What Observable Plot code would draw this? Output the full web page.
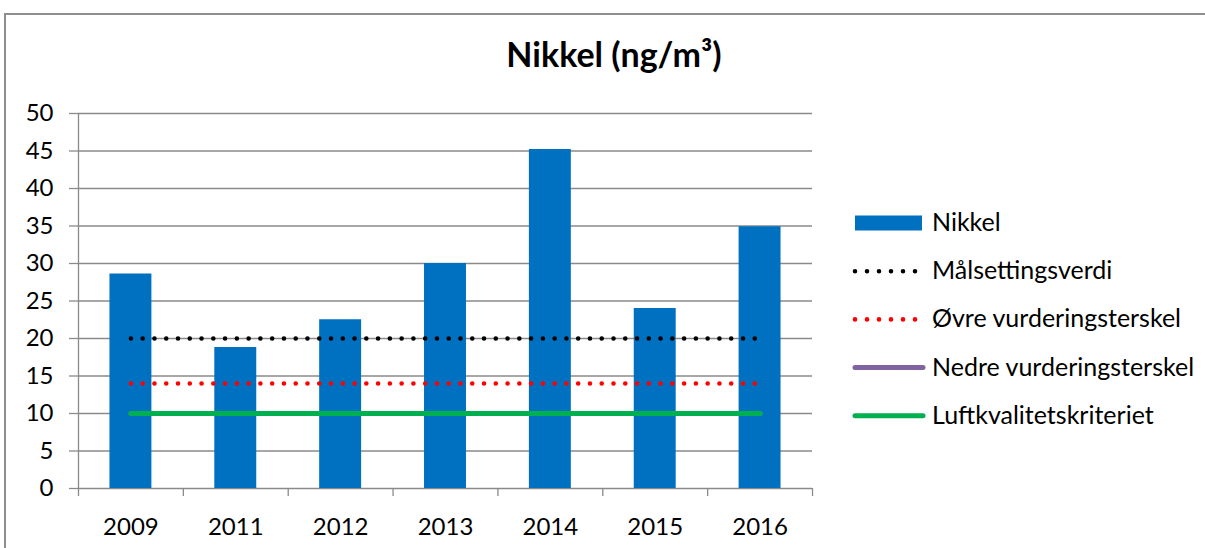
<!DOCTYPE html>
<html>
<head>
<meta charset="utf-8">
<script src="https://cdn.jsdelivr.net/npm/d3@7"></script>
<script src="https://cdn.jsdelivr.net/npm/@observablehq/plot@0.6"></script>
<style>
html, body { margin: 0; padding: 0; background: #fff; }
#wrap { position: relative; width: 1205px; height: 548px; overflow: hidden; font-family: Lato, "Open Sans", sans-serif; }
#frame { position: absolute; left: 4px; top: 13px; width: 1400px; height: 800px; border-left: 2px solid #8e8e8e; border-top: 2px solid #8e8e8e; }
#title { position: absolute; left: 0; top: 34px; width: 1228px; text-align: center; font-weight: bold; font-size: 34px; line-height: 40px; color: #000; }
#chart { position: absolute; left: 0; top: 0; }
#legend { position: absolute; left: 840px; top: 190px; }
</style>
</head>
<body>
<div id="wrap">
  <div id="frame"></div>
  <div id="chart"></div>
  <div id="title">Nikkel (ng/m³)</div>
  <div id="legend"></div>
</div>
<script>
// ---- data ----
const years = ["2009", "2011", "2012", "2013", "2014", "2015", "2016"];
const nikkel = [28.6, 18.8, 22.5, 30.0, 45.2, 24.0, 34.9];
const barName = "Nikkel";
const lineNames = ["Målsettingsverdi", "Øvre vurderingsterskel", "Nedre vurderingsterskel", "Luftkvalitetskriteriet"];
const lineValues = [20, 14, 10, 10];
const yTicks = [0, 5, 10, 15, 20, 25, 30, 35, 40, 45, 50];

// ---- styles ----
const barColor = "#0070C0";
const lineColors = ["#000000", "#FF0000", "#8064A2", "#00B050"];
const lineDotted = [true, true, false, false];
const gridColor = "#8a8a8a";
const dotDash = "0 11.77";

// ---- build tables ----
const bars = years.map((y, i) => ({ year: y, i, value: nikkel[i] }));
const lines = [];
lineNames.forEach((name, k) => {
  years.forEach((y, i) => lines.push({ series: name, k, x: i + 0.5, value: lineValues[k] }));
});
const draw = [2, 3, 1, 0]; // drawing order: purple, green, red, black (green covers purple)

const lineMarks = draw.map(k => Plot.lineY(lines.filter(d => d.k === k), {
  x: "x", y: "value",
  stroke: lineColors[k],
  strokeWidth: lineDotted[k] ? 4.6 : 5,
  strokeLinecap: "round",
  strokeDasharray: lineDotted[k] ? dotDash : null
}));

const chart = Plot.plot({
  width: 1205,
  height: 548,
  marginLeft: 78,
  marginRight: 393,
  marginTop: 113,
  marginBottom: 60,
  style: { fontFamily: "Lato, 'Open Sans', sans-serif", background: "transparent", overflow: "visible" },
  x: { type: "linear", domain: [0, years.length], label: null },
  y: { domain: [0, 50], label: null },
  marks: [
    Plot.gridY(yTicks, { stroke: gridColor, strokeOpacity: 1, strokeWidth: 1.3 }),
    Plot.ruleX([0], { stroke: gridColor, strokeWidth: 1.3 }),
    Plot.axisY(yTicks, { tickSize: 9, tickFormat: () => "", color: gridColor, strokeWidth: 1.3, label: null }),
    Plot.axisY(yTicks, { tickSize: 0, tickPadding: 25, fontSize: 24, color: "#000", label: null }),
    Plot.axisX(d3.range(years.length + 1), { tickSize: 8, tickFormat: () => "", color: gridColor, strokeWidth: 1.3, label: null }),
    Plot.axisX(years.map((_, i) => i + 0.5), { tickSize: 0, tickPadding: 29, fontSize: 24, color: "#000", tickFormat: v => years[Math.floor(v)], label: null }),
    Plot.rect(bars, { x1: d => d.i + 0.3, x2: d => d.i + 0.7, y1: 0, y2: "value", fill: barColor }),
    ...lineMarks
  ]
});
document.getElementById("chart").appendChild(chart);

// ---- legend ----
const legendItems = [{ name: barName, type: "bar", color: barColor }]
  .concat(lineNames.map((n, k) => ({ name: n, type: lineDotted[k] ? "dot" : "line", color: lineColors[k] })));
const lsvg = d3.select("#legend").append("svg").attr("width", 365).attr("height", 250)
  .style("font-family", "Lato, 'Open Sans', sans-serif");
const rowStep = 48.2, base0 = 41; // baseline of first row
legendItems.forEach((it, j) => {
  const base = base0 + j * rowStep;
  const cy = base - 8;
  if (it.type === "bar") {
    lsvg.append("rect").attr("x", 15).attr("y", cy - 7.5).attr("width", 67).attr("height", 15).attr("fill", it.color);
  } else if (it.type === "dot") {
    lsvg.append("line").attr("x1", 15).attr("x2", 76).attr("y1", cy).attr("y2", cy)
      .attr("stroke", it.color).attr("stroke-width", 4.6).attr("stroke-linecap", "round").attr("stroke-dasharray", "0 12");
  } else {
    lsvg.append("line").attr("x1", 15).attr("x2", 83).attr("y1", cy).attr("y2", cy)
      .attr("stroke", it.color).attr("stroke-width", 5).attr("stroke-linecap", "round");
  }
  lsvg.append("text").attr("x", 92).attr("y", base).attr("font-size", 25).attr("fill", "#000").text(it.name);
});
</script>
</body>
</html>
